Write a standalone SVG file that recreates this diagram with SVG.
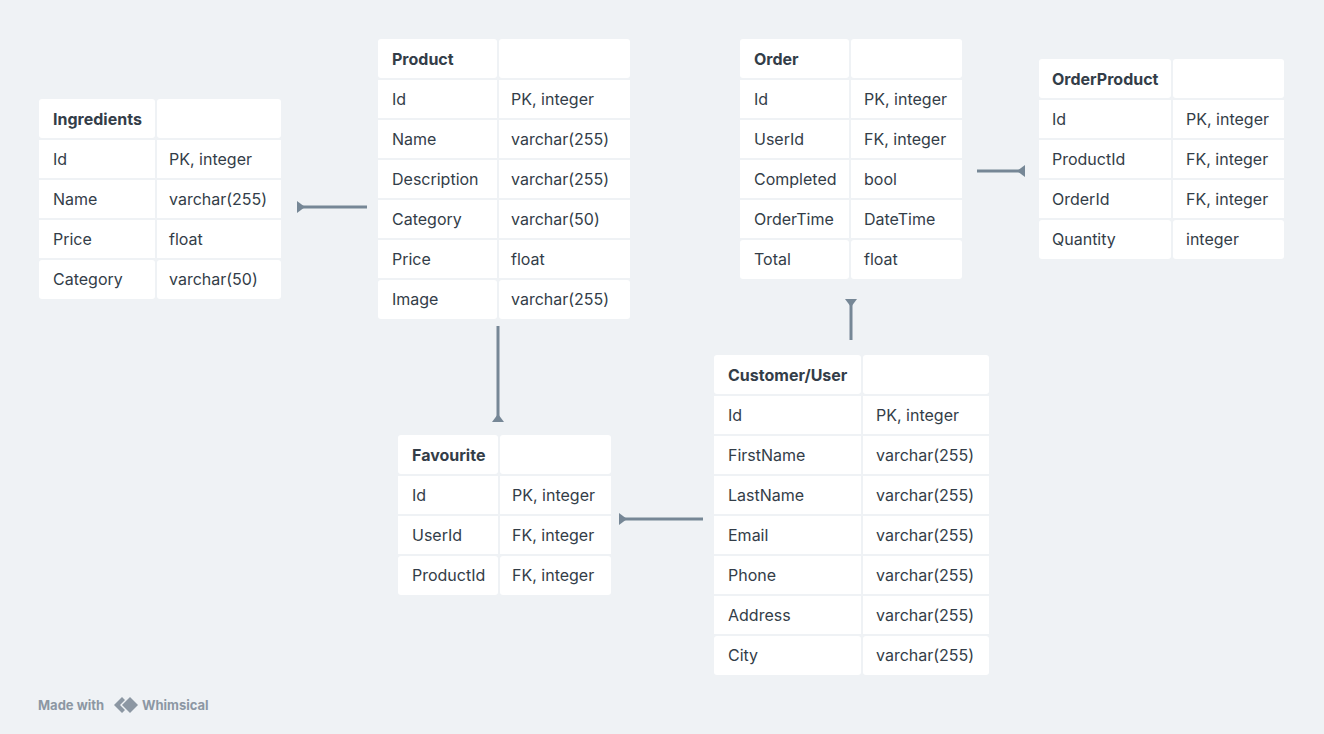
<svg xmlns="http://www.w3.org/2000/svg" width="1324" height="734" viewBox="0 0 1324 734">
<style>
.bg{fill:#eff2f5}
.cell{fill:#ffffff}
.t{font-family:Inter,"Noto Sans","Liberation Sans",sans-serif;font-size:16px;fill:#333d48}
.h{font-weight:700}
.conn{stroke:#768796;stroke-width:3;fill:none}
.foot{font-family:Inter,"Liberation Sans",sans-serif;font-size:13px;font-weight:700;fill:#8c97a3}
</style>
<defs>
<marker id="tri" markerUnits="userSpaceOnUse" markerWidth="10" markerHeight="14" refX="0" refY="6" orient="auto" viewBox="0 0 10 12">
<path d="M0,0 L0,12 L8,6 Z" fill="#768796"/>
</marker>
</defs>
<rect class="bg" x="0" y="0" width="1324" height="734"/>

<g id="connectors">
<line class="conn" x1="297" y1="207" x2="367" y2="207" marker-start="url(#tri)"/>
<line class="conn" x1="1025" y1="171" x2="977" y2="171" marker-start="url(#tri)"/>
<line class="conn" x1="851" y1="299" x2="851" y2="340" marker-start="url(#tri)"/>
<line class="conn" x1="498" y1="422" x2="498" y2="326" marker-start="url(#tri)"/>
<line class="conn" x1="619" y1="519" x2="703" y2="519" marker-start="url(#tri)"/>
</g>

<g id="ingredients">
<rect class="cell" x="39" y="99" width="116" height="39" rx="3"/><rect class="cell" x="157" y="99" width="124" height="39" rx="3"/>
<rect class="cell" x="39" y="140" width="116" height="38"/><rect class="cell" x="157" y="140" width="124" height="38"/>
<rect class="cell" x="39" y="180" width="116" height="38"/><rect class="cell" x="157" y="180" width="124" height="38"/>
<rect class="cell" x="39" y="220" width="116" height="38"/><rect class="cell" x="157" y="220" width="124" height="38"/>
<rect class="cell" x="39" y="260" width="116" height="39" rx="3"/><rect class="cell" x="157" y="260" width="124" height="39" rx="3"/>
<text class="t h" x="53" y="125">Ingredients</text>
<text class="t" x="53" y="165">Id</text><text class="t" x="169" y="165">PK, integer</text>
<text class="t" x="53" y="205">Name</text><text class="t" x="169" y="205">varchar(255)</text>
<text class="t" x="53" y="245">Price</text><text class="t" x="169" y="245">float</text>
<text class="t" x="53" y="285">Category</text><text class="t" x="169" y="285">varchar(50)</text>
</g>

<g id="product">
<rect class="cell" x="378" y="39" width="119" height="39" rx="3"/><rect class="cell" x="499" y="39" width="131" height="39" rx="3"/>
<rect class="cell" x="378" y="80" width="119" height="38"/><rect class="cell" x="499" y="80" width="131" height="38"/>
<rect class="cell" x="378" y="120" width="119" height="38"/><rect class="cell" x="499" y="120" width="131" height="38"/>
<rect class="cell" x="378" y="160" width="119" height="38"/><rect class="cell" x="499" y="160" width="131" height="38"/>
<rect class="cell" x="378" y="200" width="119" height="38"/><rect class="cell" x="499" y="200" width="131" height="38"/>
<rect class="cell" x="378" y="240" width="119" height="38"/><rect class="cell" x="499" y="240" width="131" height="38"/>
<rect class="cell" x="378" y="280" width="119" height="39" rx="3"/><rect class="cell" x="499" y="280" width="131" height="39" rx="3"/>
<text class="t h" x="392" y="65">Product</text>
<text class="t" x="392" y="105">Id</text><text class="t" x="511" y="105">PK, integer</text>
<text class="t" x="392" y="145">Name</text><text class="t" x="511" y="145">varchar(255)</text>
<text class="t" x="392" y="185">Description</text><text class="t" x="511" y="185">varchar(255)</text>
<text class="t" x="392" y="225">Category</text><text class="t" x="511" y="225">varchar(50)</text>
<text class="t" x="392" y="265">Price</text><text class="t" x="511" y="265">float</text>
<text class="t" x="392" y="305">Image</text><text class="t" x="511" y="305">varchar(255)</text>
</g>

<g id="order">
<rect class="cell" x="740" y="39" width="109" height="39" rx="3"/><rect class="cell" x="851" y="39" width="111" height="39" rx="3"/>
<rect class="cell" x="740" y="80" width="109" height="38"/><rect class="cell" x="851" y="80" width="111" height="38"/>
<rect class="cell" x="740" y="120" width="109" height="38"/><rect class="cell" x="851" y="120" width="111" height="38"/>
<rect class="cell" x="740" y="160" width="109" height="38"/><rect class="cell" x="851" y="160" width="111" height="38"/>
<rect class="cell" x="740" y="200" width="109" height="38"/><rect class="cell" x="851" y="200" width="111" height="38"/>
<rect class="cell" x="740" y="240" width="109" height="39" rx="3"/><rect class="cell" x="851" y="240" width="111" height="39" rx="3"/>
<text class="t h" x="754" y="65">Order</text>
<text class="t" x="754" y="105">Id</text><text class="t" x="864" y="105">PK, integer</text>
<text class="t" x="754" y="145">UserId</text><text class="t" x="864" y="145">FK, integer</text>
<text class="t" x="754" y="185">Completed</text><text class="t" x="864" y="185">bool</text>
<text class="t" x="754" y="225">OrderTime</text><text class="t" x="864" y="225">DateTime</text>
<text class="t" x="754" y="265">Total</text><text class="t" x="864" y="265">float</text>
</g>

<g id="orderproduct">
<rect class="cell" x="1039" y="59" width="132" height="39" rx="3"/><rect class="cell" x="1173" y="59" width="111" height="39" rx="3"/>
<rect class="cell" x="1039" y="100" width="132" height="38"/><rect class="cell" x="1173" y="100" width="111" height="38"/>
<rect class="cell" x="1039" y="140" width="132" height="38"/><rect class="cell" x="1173" y="140" width="111" height="38"/>
<rect class="cell" x="1039" y="180" width="132" height="38"/><rect class="cell" x="1173" y="180" width="111" height="38"/>
<rect class="cell" x="1039" y="220" width="132" height="39" rx="3"/><rect class="cell" x="1173" y="220" width="111" height="39" rx="3"/>
<text class="t h" x="1052" y="85">OrderProduct</text>
<text class="t" x="1052" y="125">Id</text><text class="t" x="1186" y="125">PK, integer</text>
<text class="t" x="1052" y="165">ProductId</text><text class="t" x="1186" y="165">FK, integer</text>
<text class="t" x="1052" y="205">OrderId</text><text class="t" x="1186" y="205">FK, integer</text>
<text class="t" x="1052" y="245">Quantity</text><text class="t" x="1186" y="245">integer</text>
</g>

<g id="customer">
<rect class="cell" x="714" y="355" width="147" height="39" rx="3"/><rect class="cell" x="863" y="355" width="126" height="39" rx="3"/>
<rect class="cell" x="714" y="396" width="147" height="38"/><rect class="cell" x="863" y="396" width="126" height="38"/>
<rect class="cell" x="714" y="436" width="147" height="38"/><rect class="cell" x="863" y="436" width="126" height="38"/>
<rect class="cell" x="714" y="476" width="147" height="38"/><rect class="cell" x="863" y="476" width="126" height="38"/>
<rect class="cell" x="714" y="516" width="147" height="38"/><rect class="cell" x="863" y="516" width="126" height="38"/>
<rect class="cell" x="714" y="556" width="147" height="38"/><rect class="cell" x="863" y="556" width="126" height="38"/>
<rect class="cell" x="714" y="596" width="147" height="38"/><rect class="cell" x="863" y="596" width="126" height="38"/>
<rect class="cell" x="714" y="636" width="147" height="39" rx="3"/><rect class="cell" x="863" y="636" width="126" height="39" rx="3"/>
<text class="t h" x="728" y="381">Customer/User</text>
<text class="t" x="728" y="421">Id</text><text class="t" x="876" y="421">PK, integer</text>
<text class="t" x="728" y="461">FirstName</text><text class="t" x="876" y="461">varchar(255)</text>
<text class="t" x="728" y="501">LastName</text><text class="t" x="876" y="501">varchar(255)</text>
<text class="t" x="728" y="541">Email</text><text class="t" x="876" y="541">varchar(255)</text>
<text class="t" x="728" y="581">Phone</text><text class="t" x="876" y="581">varchar(255)</text>
<text class="t" x="728" y="621">Address</text><text class="t" x="876" y="621">varchar(255)</text>
<text class="t" x="728" y="661">City</text><text class="t" x="876" y="661">varchar(255)</text>
</g>

<g id="favourite">
<rect class="cell" x="398" y="435" width="100" height="39" rx="3"/><rect class="cell" x="500" y="435" width="111" height="39" rx="3"/>
<rect class="cell" x="398" y="476" width="100" height="38"/><rect class="cell" x="500" y="476" width="111" height="38"/>
<rect class="cell" x="398" y="516" width="100" height="38"/><rect class="cell" x="500" y="516" width="111" height="38"/>
<rect class="cell" x="398" y="556" width="100" height="39" rx="3"/><rect class="cell" x="500" y="556" width="111" height="39" rx="3"/>
<text class="t h" x="412" y="461">Favourite</text>
<text class="t" x="412" y="501">Id</text><text class="t" x="512" y="501">PK, integer</text>
<text class="t" x="412" y="541">UserId</text><text class="t" x="512" y="541">FK, integer</text>
<text class="t" x="412" y="581">ProductId</text><text class="t" x="512" y="581">FK, integer</text>
</g>

<g id="footer">
<text class="foot" x="38" y="710">Made with</text>
<path d="M122,697 L114,705 L122,713 L125,710 L120,705 L125,700 Z" fill="#8c97a3"/>
<path d="M130,697 L138,705 L130,713 L122,705 Z" fill="#8c97a3"/>
<text class="foot" x="142" y="710">Whimsical</text>
</g>
</svg>
